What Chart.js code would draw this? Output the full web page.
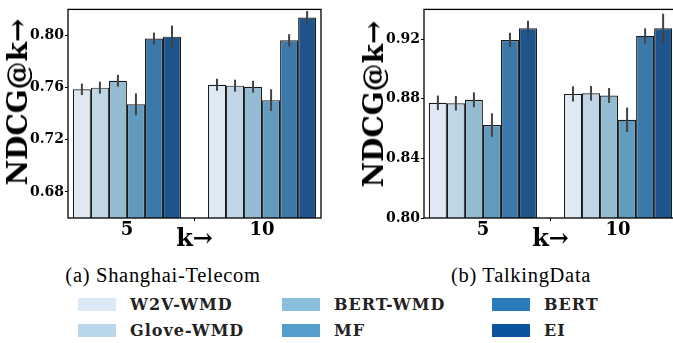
<!DOCTYPE html>
<html>
<head>
<meta charset="utf-8">
<script src="https://cdn.jsdelivr.net/npm/chart.js@4.4.0/dist/chart.umd.min.js"></script>
<style>
  html, body { margin: 0; padding: 0; background: #fff; }
  #wrap { position: relative; width: 673px; height: 343px; overflow: hidden; background: #fff; }
  .box { position: absolute; top: 0; width: 340px; height: 252px; }
  .ytitle { position: absolute; transform: translate(-50%, -50%) rotate(-90deg);
    font: bold 28px "DejaVu Serif"; white-space: nowrap; color: #000; line-height: 1; }
  .caption { position: absolute; transform: translate(-50%, -50%); top: 275px;
    font: 20.5px "Liberation Serif"; letter-spacing: 0.7px; white-space: nowrap; color: #000; line-height: 1; }
  #legend { position: absolute; left: 78px; top: 291px; display: grid;
    grid-template-columns: 204px 210px auto; grid-template-rows: 26px 26px; grid-auto-flow: column; }
  .item { display: flex; align-items: center; font: bold 16px "DejaVu Serif"; letter-spacing: 1px; color: #222; }
  .patch { width: 38px; height: 13px; margin-right: 14px; }
</style>
</head>
<body>
<div id="wrap">
  <div class="box" style="left:0"><canvas id="c1" width="340" height="252"></canvas></div>
  <div class="box" style="left:356px"><canvas id="c2" width="340" height="252"></canvas></div>
  <div class="ytitle" style="left:17.5px; top:102px">NDCG@k→</div>
  <div class="ytitle" style="left:374px; top:104px">NDCG@k→</div>
  <div class="caption" style="left:163px">(a) Shanghai-Telecom</div>
  <div class="caption" style="left:521px">(b) TalkingData</div>
  <div id="legend"></div>
</div>
<script>
const methods = ["W2V-WMD", "Glove-WMD", "BERT-WMD", "MF", "BERT", "EI"];
const kLabels = ["5", "10"];

// (a) Shanghai-Telecom, one pair [k=5, k=10] per method
const shanghaiNdcg = [
  [0.7587, 0.7622],
  [0.7600, 0.7615],
  [0.7653, 0.7607],
  [0.7472, 0.7504],
  [0.7976, 0.7963],
  [0.7991, 0.8138],
];
const shanghaiErr = [
  [0.0044, 0.0046],
  [0.0046, 0.0046],
  [0.0045, 0.0046],
  [0.0084, 0.0083],
  [0.0046, 0.0047],
  [0.0085, 0.0050],
];
const shanghaiTicks = [0.68, 0.72, 0.76, 0.80];

// (b) TalkingData
const talkingNdcg = [
  [0.8773, 0.8833],
  [0.8770, 0.8837],
  [0.8793, 0.8822],
  [0.8624, 0.8659],
  [0.9195, 0.9222],
  [0.9274, 0.9274],
];
const talkingErr = [
  [0.0049, 0.0051],
  [0.0049, 0.0049],
  [0.0050, 0.0050],
  [0.0079, 0.0082],
  [0.0048, 0.0051],
  [0.0050, 0.0097],
];
const talkingTicks = [0.80, 0.84, 0.88, 0.92];

const legendColors = ["#dbe9f6", "#bad6eb", "#89bedc", "#539ecd", "#2b7bba", "#0b559f"];
const barColors = ["#dee9f3", "#c0d5e5", "#93bbd2", "#629abe", "#3d79a8", "#1e558c"];

const errorBars = {
  id: "errorBars",
  afterDatasetsDraw(chart) {
    const ctx = chart.ctx;
    const y = chart.scales.y;
    ctx.save();
    ctx.strokeStyle = "#424242";
    ctx.lineWidth = 2;
    chart.data.datasets.forEach(function (ds, i) {
      chart.getDatasetMeta(i).data.forEach(function (bar, j) {
        const v = ds.data[j].y, e = ds.errors[j];
        ctx.beginPath();
        ctx.moveTo(bar.x, y.getPixelForValue(v + e));
        ctx.lineTo(bar.x, y.getPixelForValue(v - e));
        ctx.stroke();
      });
    });
    ctx.restore();
  }
};

const frame = {
  id: "frame",
  afterDraw(chart) {
    const a = chart.chartArea, ctx = chart.ctx;
    ctx.save();
    ctx.strokeStyle = "#000";
    ctx.lineWidth = 1.3;
    ctx.strokeRect(a.left, a.top, a.right - a.left, a.bottom - a.top);
    ctx.restore();
  }
};

function makeChart(id, values, errors, yMin, yMax, yTicks) {
  const datasets = methods.map(function (name, i) {
    return {
      label: name,
      data: kLabels.map(function (_, k) { return { x: k, y: values[i][k] }; }),
      errors: errors[i],
      backgroundColor: barColors[i],
      borderColor: "#1a1a1a",
      borderWidth: 1.2,
      borderSkipped: false,
      categoryPercentage: 0.8,
      barPercentage: 1.0,
    };
  });

  new Chart(document.getElementById(id), {
    type: "bar",
    data: { datasets: datasets },
    plugins: [errorBars, frame],
    options: {
      responsive: false,
      animation: false,
      layout: { padding: { top: 5, right: 19, left: 0, bottom: 0 } },
      plugins: { legend: { display: false }, tooltip: { enabled: false } },
      scales: {
        x: {
          type: "linear",
          min: -0.436,
          max: 1.436,
          offset: false,
          afterBuildTicks: function (s) { s.ticks = kLabels.map(function (_, k) { return { value: k }; }); },
          afterFit: function (s) { s.height = 34; },
          ticks: {
            callback: function (v) { return kLabels[v]; },
            font: { family: "DejaVu Serif", size: 18, weight: "bold", lineHeight: 1 },
            color: "#000",
            padding: 0,
            maxRotation: 0,
            autoSkip: false,
          },
          grid: { display: true, drawOnChartArea: false, drawTicks: true, tickLength: 3, color: "#000" },
          border: { display: false },
          title: {
            display: true,
            text: "k→",
            font: { family: "DejaVu Serif", size: 24, weight: "bold", lineHeight: 1 },
            color: "#000",
            padding: 0,
          },
        },
        y: {
          min: yMin,
          max: yMax,
          afterBuildTicks: function (s) { s.ticks = yTicks.map(function (v) { return { value: v }; }); },
          afterFit: function (s) { s.width = 68; },
          ticks: {
            callback: function (v) { return v.toFixed(2); },
            font: { family: "DejaVu Serif", size: 14, weight: "bold" },
            color: "#000",
            padding: 1,
          },
          grid: { display: true, drawOnChartArea: false, drawTicks: true, tickLength: 3, color: "#000" },
          border: { display: false },
        },
      },
    },
  });
}

makeChart("c1", shanghaiNdcg, shanghaiErr, 0.66, 0.82, shanghaiTicks);
makeChart("c2", talkingNdcg, talkingErr, 0.80, 0.94, talkingTicks);

// legend, filled column by column like the figure
var legend = document.getElementById("legend");
methods.forEach(function (name, i) {
  var item = document.createElement("div");
  item.className = "item";
  item.innerHTML = '<span class="patch" style="background:' + legendColors[i] + '"></span>' + name;
  legend.appendChild(item);
});
</script>
</body>
</html>
